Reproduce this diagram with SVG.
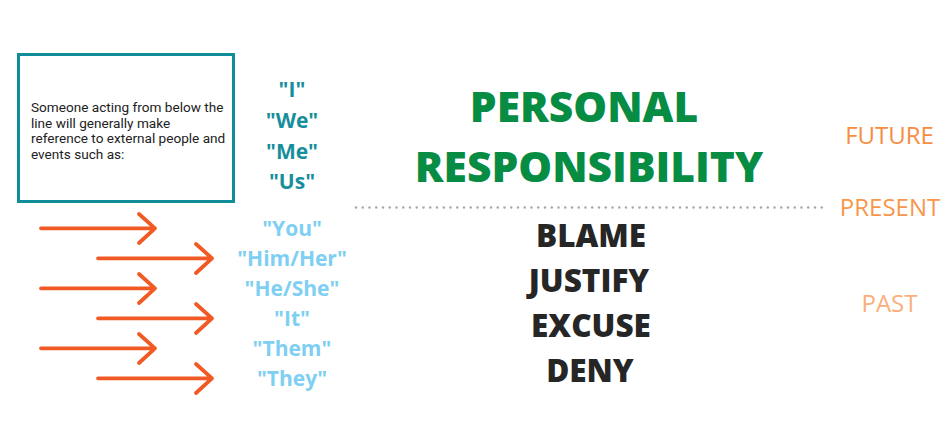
<svg xmlns="http://www.w3.org/2000/svg" width="950" height="448" viewBox="0 0 950 448">
<style>
.note{font-family:Roboto,"Liberation Sans",sans-serif;font-size:13.6px;fill:#222}
.we{font-family:"Open Sans","DejaVu Sans",sans-serif;font-weight:700;font-size:21px;fill:#178e9b;text-anchor:middle}
.they{font-family:"Open Sans","DejaVu Sans",sans-serif;font-weight:700;font-size:21px;fill:#7ecff2;text-anchor:middle}
.green{font-family:"Open Sans","DejaVu Sans",sans-serif;font-weight:800;font-size:42.5px;fill:#078c44;text-anchor:middle}
.dark{font-family:"Open Sans","DejaVu Sans",sans-serif;font-weight:800;font-size:31.5px;fill:#262626;text-anchor:middle}
.time{font-family:"Open Sans","DejaVu Sans",sans-serif;font-size:24px;text-anchor:middle}
.arr{fill:none;stroke:#f15a24;stroke-width:3.8;stroke-linecap:round;stroke-linejoin:round}
</style>
<rect width="950" height="448" fill="#fff"/>
<g id="note-box">
<rect x="18.5" y="54.5" width="215" height="147" fill="#fff" stroke="#118d99" stroke-width="3"/>
<text class="note" x="31" y="112">Someone acting from below the</text>
<text class="note" x="31" y="127.5">line will generally make</text>
<text class="note" x="31" y="143">reference to external people and</text>
<text class="note" x="31" y="158.5">events such as:</text>
</g>
<g id="above-words">
<text class="we" x="292" y="97">"I"</text>
<text class="we" x="292" y="128">"We"</text>
<text class="we" x="292" y="159">"Me"</text>
<text class="we" x="292" y="189">"Us"</text>
</g>
<g id="below-words">
<text class="they" x="292" y="236">"You"</text>
<text class="they" x="292" y="266">"Him/Her"</text>
<text class="they" x="292" y="296">"He/She"</text>
<text class="they" x="292" y="326">"It"</text>
<text class="they" x="292" y="356">"Them"</text>
<text class="they" x="292" y="386">"They"</text>
</g>
<g id="connectors">
<path class="arr" d="M41 228.3H155M139 214L155 228.3L139 243"/>
<path class="arr" d="M98 258.3H212M196 244L212 258.3L196 273"/>
<path class="arr" d="M41 288.3H155M139 274L155 288.3L139 303"/>
<path class="arr" d="M98 318.3H212M196 304L212 318.3L196 333"/>
<path class="arr" d="M41 348.3H155M139 334L155 348.3L139 363"/>
<path class="arr" d="M98 378.3H212M196 364L212 378.3L196 393"/>
<line x1="356" y1="207.5" x2="828" y2="207.5" stroke="#a8a8a8" stroke-width="2.6" stroke-linecap="round" stroke-dasharray="0 6.75"/>
</g>
<g id="personal-responsibility">
<text class="green" x="584" y="122">PERSONAL</text>
<text class="green" x="589" y="182">RESPONSIBILITY</text>
</g>
<g id="below-line">
<text class="dark" x="591" y="247">BLAME</text>
<text class="dark" x="589" y="292">JUSTIFY</text>
<text class="dark" x="591" y="337">EXCUSE</text>
<text class="dark" x="590" y="382">DENY</text>
</g>
<g id="timeline">
<text class="time" x="889.5" y="144" fill="#f68d3f">FUTURE</text>
<text class="time" x="890" y="216" fill="#f7974b">PRESENT</text>
<text class="time" x="889.5" y="312" fill="#f9ae7c">PAST</text>
</g>
</svg>
